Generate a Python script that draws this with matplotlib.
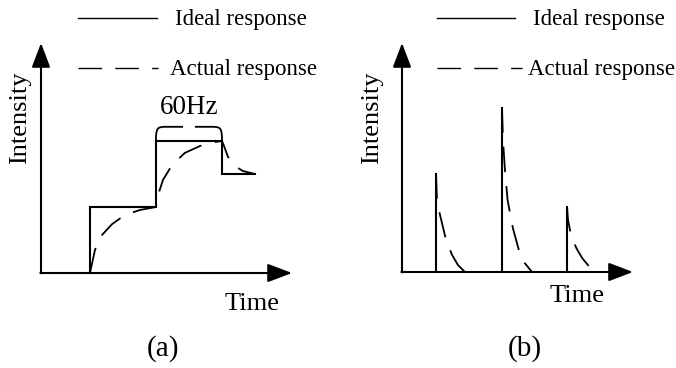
import matplotlib
matplotlib.use("Agg")
import matplotlib.pyplot as plt
from matplotlib.path import Path
from matplotlib.patches import PathPatch

plt.rcParams["font.family"] = ["Liberation Serif", "DejaVu Serif"]
plt.rcParams["lines.scale_dashes"] = False

W, H = 676, 368

# ---- panel (a): stepped intensity ----
ideal_a_t = [0.742, 0.742, 1.742, 1.742, 2.742, 2.742, 3.242]
ideal_a_i = [0.0, 2.0, 2.0, 4.0, 4.0, 3.0, 3.0]
actual_a_t = [0.742, 0.818, 0.924, 1.076, 1.273, 1.50, 1.742,
              1.773, 1.848, 1.985, 2.18, 2.41, 2.636, 2.742,
              2.773, 2.833, 2.939, 3.06, 3.242]
actual_a_i = [0.0, 0.70, 1.15, 1.48, 1.76, 1.91, 2.0,
              2.36, 2.82, 3.27, 3.64, 3.85, 3.97, 4.0,
              3.85, 3.52, 3.24, 3.09, 3.0]
brace_span = (1.742, 2.742)
brace_level = 4.0
brace_label = "60Hz"

# ---- panel (b): spikes ----
spike_t = [0.515, 1.515, 2.5]
spike_h = [3.0, 5.0, 2.0]
decay1_t = [0.515, 0.53, 0.576, 0.667, 0.758, 0.848, 0.955]
decay1_i = [3.0, 2.18, 1.73, 0.97, 0.52, 0.21, 0.0]
decay2_t = [1.515, 1.53, 1.56, 1.60, 1.68, 1.77, 1.86, 1.97]
decay2_i = [5.0, 4.0, 3.09, 2.18, 1.33, 0.67, 0.27, 0.0]
decay3_t = [2.5, 2.515, 2.56, 2.64, 2.73, 2.83, 2.94]
decay3_i = [2.0, 1.58, 1.12, 0.73, 0.42, 0.18, 0.0]

UNIT_X, UNIT_Y = 66.0, 33.0   # pixels per data unit
LW = 1.5
CURVE_LW = 1.3
DASH = (18.5, 10.0)


def fx(x):
    return x / W


def fy(y):
    return 1 - y / H


fig = plt.figure(figsize=(W / 100, H / 100), dpi=100)


def make_axes(x0, y0, xlen, ylen):
    ax = fig.add_axes([fx(x0), fy(y0), xlen / W, ylen / H])
    ax.set_xlim(0, xlen / UNIT_X)
    ax.set_ylim(0, ylen / UNIT_Y)
    ax.axis("off")
    aprops = dict(arrowstyle="-|>,head_length=1.0,head_width=0.38",
                  mutation_scale=15, lw=LW, color="black",
                  shrinkA=0, shrinkB=0)
    ax.annotate("", xy=(xlen / UNIT_X, 0), xytext=(-0.01, 0),
                arrowprops=aprops, annotation_clip=False)
    ax.annotate("", xy=(0, ylen / UNIT_Y), xytext=(0, -0.01),
                arrowprops=aprops, annotation_clip=False)
    return ax


def legend(x_line0, x_line1, x_dash1, x_txt1, x_txt2):
    fig.add_artist(plt.Line2D([fx(x_line0), fx(x_line1)], [fy(18), fy(18)],
                              color="black", lw=1.0))
    fig.add_artist(plt.Line2D([fx(x_line0), fx(x_dash1)], [fy(68), fy(68)],
                              color="black", lw=1.0, dashes=(17.0, 9.5)))
    fig.text(fx(x_txt1), fy(19), "Ideal response", fontsize=16.5,
             ha="left", va="center")
    fig.text(fx(x_txt2), fy(69), "Actual response", fontsize=16.5,
             ha="left", va="center")


# panel (a)
axa = make_axes(41, 273, 251, 230)
axa.plot(ideal_a_t, ideal_a_i, color="black", lw=LW, solid_joinstyle="miter",
         clip_on=False)
axa.plot(actual_a_t, actual_a_i, color="black", lw=CURVE_LW, dashes=DASH,
         clip_on=False)

t1, t2 = brace_span
mid = (t1 + t2) / 2
top = brace_level + 0.43
r = 0.16
gap = 0.09
verts_l = [(t1, brace_level), (t1, top - 0.02), (t1 + 0.02, top), (t1 + r, top),
           (mid - gap, top)]
verts_r = [(t2, brace_level), (t2, top - 0.02), (t2 - 0.02, top), (t2 - r, top),
           (mid + gap, top)]
codes = [Path.MOVETO, Path.CURVE4, Path.CURVE4, Path.CURVE4, Path.LINETO]
for v in (verts_l, verts_r):
    axa.add_patch(PathPatch(Path(v, codes), fill=False, lw=CURVE_LW,
                            color="black", clip_on=False))
axa.text(mid, top + 0.2, brace_label, fontsize=19.5, ha="center", va="bottom")

fig.text(fx(20), fy(118), "Intensity", fontsize=19, rotation=90,
         ha="center", va="center")
fig.text(fx(252), fy(304), "Time", fontsize=19, ha="center", va="center")
fig.text(fx(163), fy(349), "(a)", fontsize=21, ha="center", va="center")
legend(78, 157, 158, 175, 170)

# panel (b)
axb = make_axes(402, 272, 231, 229)
axb.vlines(spike_t, 0, spike_h, color="black", lw=LW)
for tt, ii in ((decay1_t, decay1_i), (decay2_t, decay2_i), (decay3_t, decay3_i)):
    axb.plot(tt, ii, color="black", lw=CURVE_LW, dashes=DASH, clip_on=False)

fig.text(fx(372), fy(118), "Intensity", fontsize=19, rotation=90,
         ha="center", va="center")
fig.text(fx(577), fy(296), "Time", fontsize=19, ha="center", va="center")
fig.text(fx(525), fy(349), "(b)", fontsize=21, ha="center", va="center")
legend(437, 515, 522, 533, 528)

fig.savefig("out.png", dpi=100, facecolor="white")
